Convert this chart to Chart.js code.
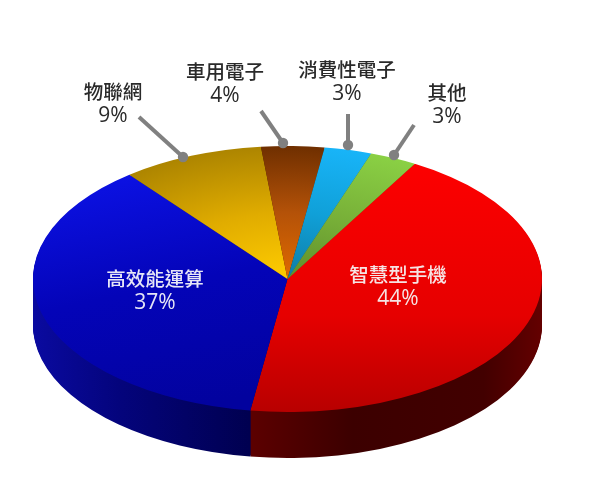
<!DOCTYPE html>
<html>
<head>
<meta charset="utf-8">
<script src="https://cdn.jsdelivr.net/npm/chart.js@4"></script>
<style>
  html, body { margin: 0; padding: 0; background: #fff; overflow: hidden; }
</style>
</head>
<body>
<canvas id="pie" width="600" height="489"></canvas>
<script>
// data, starts at 30 deg and runs clockwise
const categories = ['智慧型手機', '高效能運算', '物聯網', '車用電子', '消費性電子', '其他'];
const shares = [44, 37, 9, 4, 3, 3];
const startAngle = 30;

// where the flat chart gets squashed to on the page
const pieX = 287.5, pieY = 279, pieRx = 254.5, pieRy = 133, pieDepth = 46;

// text anchors in page pixels: name line, then percent line below
const textSpots = [
  { x: 398, y: 275, color: '#f6e4e4' },
  { x: 155, y: 279, color: '#e6e6f6' },
  { x: 113, y: 92, color: '#2a2a2a' },
  { x: 225, y: 72, color: '#2a2a2a' },
  { x: 347, y: 70, color: '#2a2a2a' },
  { x: 447, y: 93, color: '#2a2a2a' }
];

// grey leader lines: from the label to the dot on the rim
const leaders = [
  [139, 117, 183, 157],
  [261, 111, 283, 143],
  [348, 114, 348, 145],
  [414, 125, 394, 155]
];

const canvas = document.getElementById('pie');
const ctx = canvas.getContext('2d');
const cx = canvas.width / 2, cy = canvas.height / 2, r = Math.min(cx, cy);

// page pixel -> chart pixel
const toX = sx => cx + (sx - pieX) * r / pieRx;
const toY = sy => cy + (sy - pieY) * r / pieRy;

function linear(x0, y0, x1, y1, stops) {
  const g = ctx.createLinearGradient(toX(x0), toY(y0), toX(x1), toY(y1));
  stops.forEach(s => g.addColorStop(s[0], s[1]));
  return g;
}
function radial(stops) {
  const g = ctx.createRadialGradient(cx, cy, 0, cx, cy, r);
  stops.forEach(s => g.addColorStop(s[0], s[1]));
  return g;
}

const topColors = [
  linear(0, 170, 0, 412, [[0, '#fc0000'], [0.6, '#e60000'], [1, '#b80000']]),
  linear(60, 180, 230, 400, [[0, '#0c12e6'], [0.5, '#0404b8'], [1, '#02029e']]),
  radial([[0, '#ffcc00'], [0.5, '#e0ac00'], [1, '#ad8500']]),
  radial([[0, '#e06a00'], [0.5, '#b45208'], [1, '#6f2f00']]),
  radial([[0, '#0f7da5'], [0.5, '#10a0d8'], [1, '#18b4f8']]),
  radial([[0, '#5f8e2c'], [0.5, '#78b038'], [1, '#8ad044']])
];

const sideColors = [
  linear(250, 0, 542, 0, [[0, '#5c0000'], [0.35, '#3c0000'], [0.8, '#420000'], [1, '#640000']]),
  linear(33, 0, 250, 0, [[0, '#0a0aa0'], [0.4, '#04047c'], [1, '#000050']]),
  '#6d5500', '#451d00', '#0c5f80', '#456b20'
];

const squashPlugin = {
  id: 'squash',
  beforeDatasetsDraw(chart) {
    const c = chart.ctx;
    c.save();
    c.translate(pieX, pieY);
    c.scale(pieRx / r, pieRy / r);
    c.translate(-cx, -cy);
    // the rim: same arcs stacked downwards in the dark colours
    const arcs = chart.getDatasetMeta(0).data;
    for (let d = pieDepth; d > 0; d--) {
      c.save();
      c.translate(0, d * r / pieRy);
      arcs.forEach((arc, i) => {
        const ghost = Object.create(arc);
        ghost.options = Object.assign({}, arc.options, { backgroundColor: sideColors[i] });
        ghost.draw(c);
      });
      c.restore();
    }
  },
  afterDatasetsDraw(chart) {
    chart.ctx.restore();
  },
  afterDraw(chart) {
    const c = chart.ctx;
    c.save();
    c.strokeStyle = '#808080';
    c.fillStyle = '#808080';
    c.lineWidth = 4;
    leaders.forEach(l => {
      c.beginPath();
      c.moveTo(l[0], l[1]);
      c.lineTo(l[2], l[3]);
      c.stroke();
      c.beginPath();
      c.arc(l[2], l[3], 5.2, 0, Math.PI * 2);
      c.fill();
    });
    c.textAlign = 'center';
    c.textBaseline = 'middle';
    categories.forEach((name, i) => {
      const t = textSpots[i];
      c.fillStyle = t.color;
      c.font = '500 19.5px "Noto Sans CJK TC"';
      c.fillText(name, t.x, t.y);
      c.font = '21px "Open Sans"';
      c.fillText(shares[i] + '%', t.x, t.y + 24);
    });
    c.restore();
  }
};

new Chart(ctx, {
  type: 'pie',
  data: {
    labels: categories,
    datasets: [{
      data: shares,
      backgroundColor: topColors,
      borderWidth: 0,
      clip: false
    }]
  },
  options: {
    responsive: false,
    animation: false,
    rotation: startAngle,
    layout: { padding: 0 },
    plugins: { legend: { display: false }, tooltip: { enabled: false } }
  },
  plugins: [squashPlugin]
});
</script>
</body>
</html>
